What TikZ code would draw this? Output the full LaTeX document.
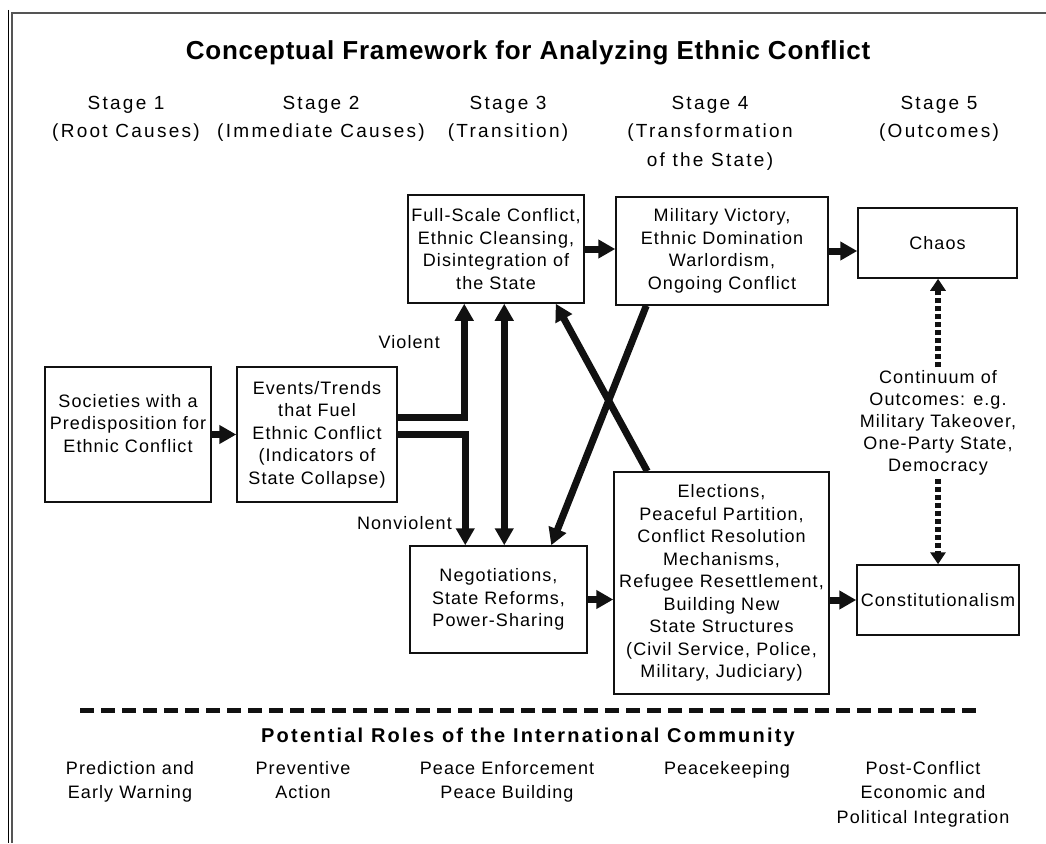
\documentclass[tikz,border=0pt]{standalone}
\usepackage{fontspec}
\setmainfont{Liberation Sans}
\newfontfamily\boxfont[LetterSpace=6]{Liberation Sans}
\newfontfamily\stagefont[LetterSpace=12]{Liberation Sans}
\newfontfamily\headfont[LetterSpace=3]{Liberation Sans}
\newfontfamily\rolesfont[LetterSpace=11]{Liberation Sans}
\usepackage{tikz}
\usetikzlibrary{arrows.meta,calc}
\definecolor{framegray}{HTML}{555555}
\definecolor{ink}{HTML}{111111}

\begin{document}
\begin{tikzpicture}[
  x=1pt,y=-1pt,
  box/.style={draw=ink,line width=1.5pt,align=center,inner sep=0pt,font=\boxfont\fontsize{18}{22.5}\selectfont},
  stagelbl/.style={align=center,anchor=north,inner sep=0pt,font=\stagefont\fontsize{19}{28.5}\selectfont},
  rolelbl/.style={align=center,anchor=north,inner sep=0pt,font=\boxfont\fontsize{18}{24.5}\selectfont},
  plain/.style={align=center,inner sep=0pt,font=\boxfont\fontsize{18}{22}\selectfont},
  arr/.style={-{Triangle[length=17pt,width=18pt]},line width=7pt,draw=ink},
  twoway/.style={{Triangle[length=17pt,width=18pt]}-{Triangle[length=17pt,width=18pt]},line width=7pt,draw=ink},
  dotarr/.style={-{Triangle[length=12pt,width=15pt]},line width=6pt,dash pattern=on 5pt off 3pt,draw=ink},
  sepline/.style={line width=5pt,dash pattern=on 14pt off 7pt,draw=ink}
]
\useasboundingbox (0,0) rectangle (1046,843);
\draw[line width=0.8pt] (8,10) -- (8,843);
\draw[framegray,line width=2pt] (12,843) -- (12,13) -- (1046,13);

\node[font=\headfont\bfseries\fontsize{26}{30}\selectfont] (title) at (528,53) {Conceptual Framework for Analyzing Ethnic Conflict};

\node[stagelbl] (s1) at (126,96) {Stage 1\\(Root Causes)};
\node[stagelbl] (s2) at (321,96) {Stage 2\\(Immediate Causes)};
\node[stagelbl] (s3) at (508,96) {Stage 3\\(Transition)};
\node[stagelbl] (s4) at (710,96) {Stage 4\\(Transformation\\of the State)};
\node[stagelbl] (s5) at (939,96) {Stage 5\\(Outcomes)};

\node[box,minimum width=166pt,minimum height=135pt] (soc) at (128,434.5) {Societies with a\\Predisposition for\\Ethnic Conflict\\\mbox{}};
\node[box,minimum width=160pt,minimum height=135pt] (events) at (317,434.5) {Events/Trends\\that Fuel\\Ethnic Conflict\\(Indicators of\\State Collapse)};
\node[box,minimum width=176pt,minimum height=108pt] (full) at (496,249) {Full-Scale Conflict,\\Ethnic Cleansing,\\Disintegration of\\the State};
\node[box,minimum width=212pt,minimum height=108pt] (milit) at (722,251) {Military Victory,\\Ethnic Domination\\Warlordism,\\Ongoing Conflict};
\node[box,minimum width=159pt,minimum height=70pt] (chaos) at (937.5,243) {Chaos};
\node[box,minimum width=177pt,minimum height=107pt] (nego) at (498.5,599.5) {Negotiations,\\State Reforms,\\Power-Sharing};
\node[box,minimum width=215pt,minimum height=222pt] (elect) at (721.5,583) {Elections,\\Peaceful Partition,\\Conflict Resolution\\Mechanisms,\\Refugee Resettlement,\\Building New\\State Structures\\(Civil Service, Police,\\Military, Judiciary)};
\node[box,minimum width=162pt,minimum height=70pt] (const) at (938,600) {Constitutionalism};

\node[plain,inner sep=3pt] (cont) at (938,423) {Continuum of\\Outcomes: e.g.\\Military Takeover,\\One-Party State,\\Democracy};
\node[plain,anchor=east] (viol) at (440,342) {Violent};
\node[plain,anchor=east] (nonviol) at (452,523) {Nonviolent};

\draw[arr] (soc) -- (events);
\draw[arr] ([yshift=17pt]events.east) -| ([xshift=57pt]full.south west);
\draw[arr] (events.east) -| ([xshift=56pt]nego.north west);
\draw[twoway] ([xshift=97pt]full.south west) -- ([xshift=97pt]full.south west |- nego.north);
\draw[arr] ([xshift=34pt]elect.north west) -- ([xshift=-29pt]full.south east);
\draw[arr] ([xshift=31pt]milit.south west) -- ([xshift=142pt]nego.north west);
\draw[arr] (full.east) -- (full.east -| milit.west);
\draw[arr] (milit.east) -- (milit.east -| chaos.west);
\draw[arr] (nego.east) -- (nego.east -| elect.west);
\draw[arr] (elect.east |- const.west) -- (const.west);
\draw[dotarr] (cont.north) -- (cont.north |- chaos.south);
\draw[dotarr] (cont.south) -- (cont.south |- const.north);

\draw[sepline] (80,710) -- (980,710);
\node[font=\rolesfont\bfseries\fontsize{20}{24}\selectfont] (roles) at (528,737) {Potential Roles of the International Community};

\node[rolelbl] (pred) at (130,761) {Prediction and\\Early Warning};
\node[rolelbl] (prev) at (303,761) {Preventive\\Action};
\node[rolelbl] (enf) at (507,761) {Peace Enforcement\\Peace Building};
\node[rolelbl] (keep) at (727,761) {Peacekeeping};
\node[rolelbl] (post) at (923,761) {Post-Conflict\\Economic and\\Political Integration};
\end{tikzpicture}
\end{document}
